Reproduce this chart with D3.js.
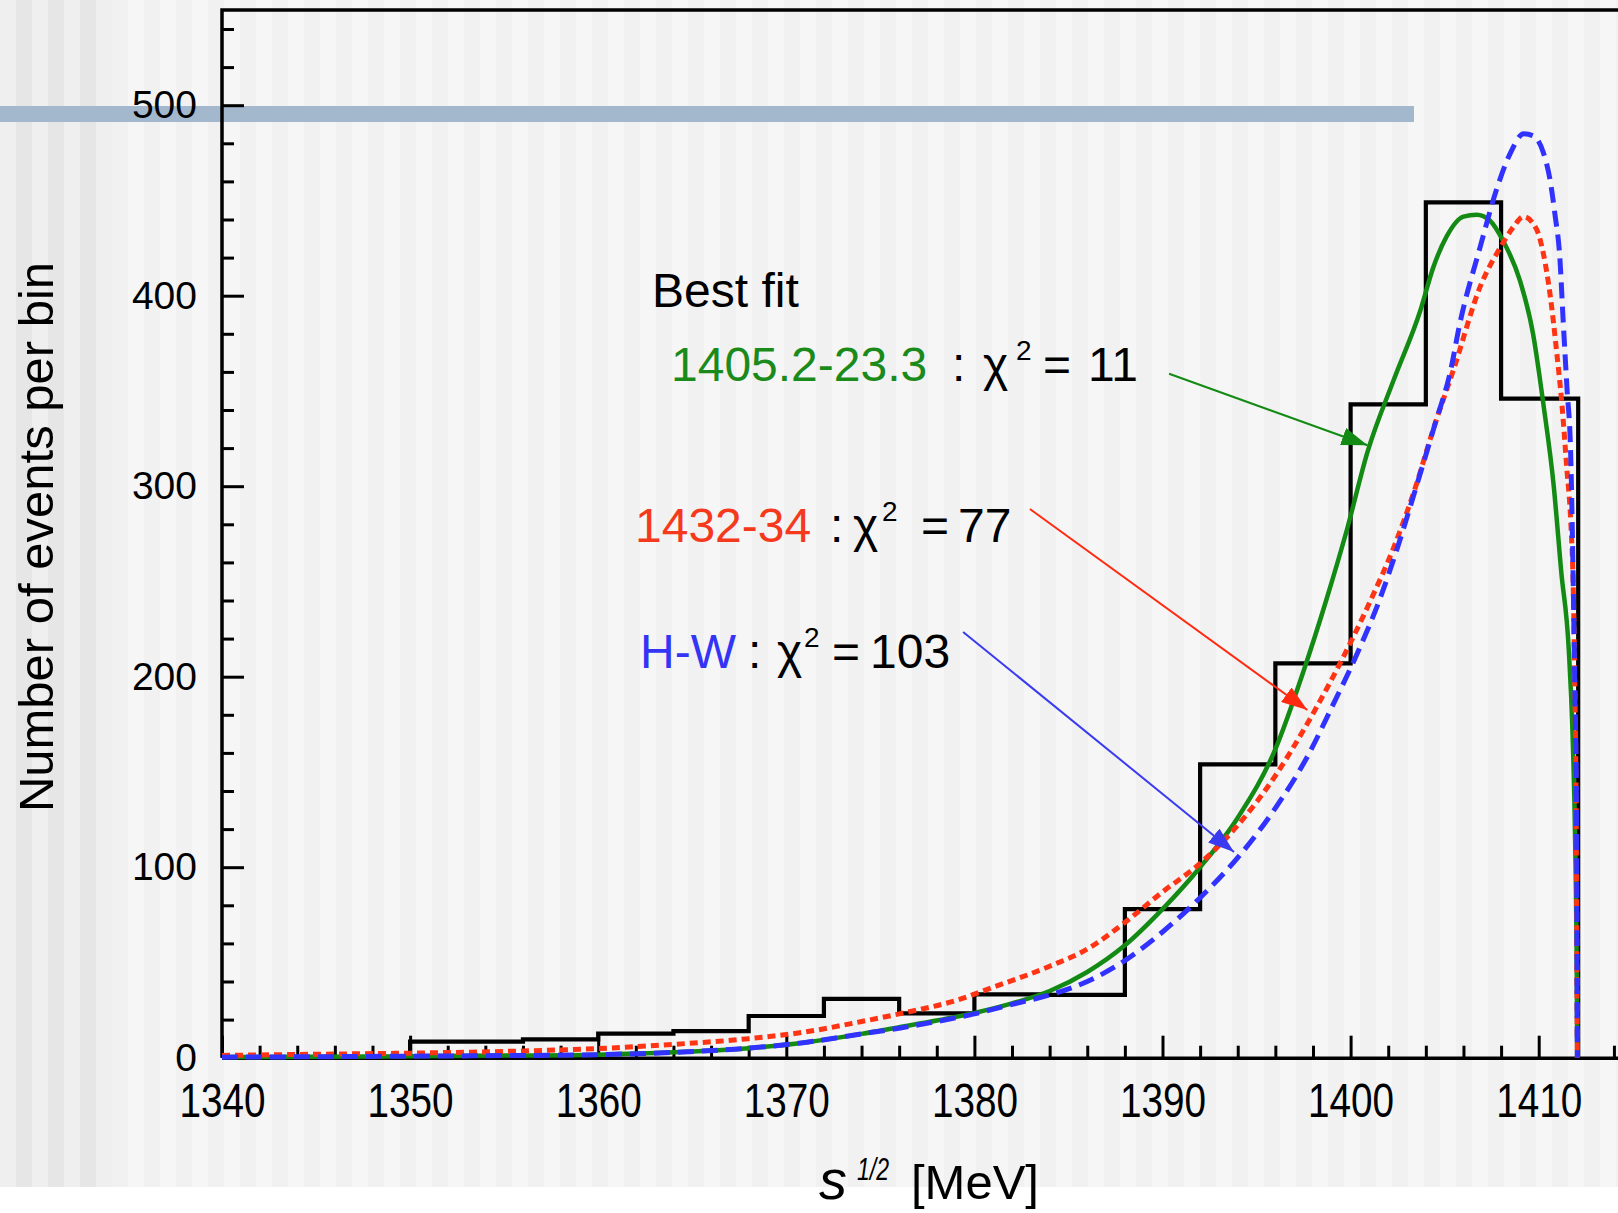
<!DOCTYPE html>
<html>
<head>
<meta charset="utf-8">
<script src="https://cdn.jsdelivr.net/npm/d3@7"></script>
<style>
  html, body { margin: 0; padding: 0; background: #fff; }
  svg { display: block; font-family: "Liberation Sans", Arial, sans-serif; }
</style>
</head>
<body>
<script>
// histogram: bin edges in MeV (last one closes the last bin) and events per bin
var binEdges = [1350, 1356, 1360, 1364, 1368, 1372, 1376, 1380, 1384, 1388, 1392, 1396, 1400, 1404, 1408, 1412.1];
var binCounts = [8.4, 9.6, 12.6, 14, 21.9, 30.9, 23.3, 33.2, 33, 78, 154, 207, 343, 449, 346];

// fitted spectra, [sqrt(s), events]
var bestFit = [[1340,0.3],[1345,0.5],[1350,0.8],[1355,1.1],[1360,1.6],[1364,2.8],[1368,5],[1371,8],[1374,12.5],
  [1376,16],[1378,19.5],[1380,23.5],[1382,28.5],[1384,35],[1386,45],[1388,59],[1390,78],[1392,100],[1394,126],
  [1396,162],[1397.5,203],[1398.7,240],[1399.8,277],[1400.9,318],[1402.3,356],[1403.7,392],[1404.4,415],
  [1405.1,431],[1406,441.5],[1406.7,442.5],[1407.4,439.5],[1408.1,429],[1409,408],[1409.7,380],[1410.25,343],
  [1410.8,300],[1411.2,255],[1411.6,214],[1411.8,170],[1411.93,118],[1412.02,48],[1412.05,0]];
var fit1432 = [[1340,1.2],[1345,1.8],[1350,2.4],[1355,3.3],[1360,4.8],[1364,7],[1368,10],[1371,13.5],[1374,19],
  [1376,23],[1379,30],[1381,37],[1384,48],[1386,57],[1388,71],[1390,87],[1392,102],[1394,122],[1396,148],
  [1397.5,172],[1398.8,195],[1400,218],[1401.2,243],[1402.3,268],[1403.4,298],[1404.4,330],[1405.5,362],
  [1406.9,405],[1408,426],[1408.65,436],[1409.2,441.5],[1409.9,434.5],[1410.25,422],[1410.6,401],[1410.96,370],
  [1411.23,343.5],[1411.5,308.5],[1411.7,282],[1411.85,240],[1411.93,188],[1412.0,118],[1412.05,0]];
var fitHW = [[1340,0.3],[1345,0.5],[1350,0.8],[1355,1.1],[1360,1.6],[1364,2.8],[1368,5],[1371,8],[1374,12.5],
  [1376,15.5],[1378,19],[1380,23],[1382,28],[1384,33],[1386,40],[1388,51],[1390,66],[1392,84],[1394,105],
  [1396,131],[1397.7,158],[1399.1,186],[1400.3,211],[1401.6,242],[1402.5,268],[1403.5,300],[1404.5,333],
  [1405.3,360],[1405.8,385],[1406.9,426],[1407.8,457],[1408.5,475],[1409.2,485],[1409.7,484],[1410.25,475],
  [1410.6,461],[1410.86,443],[1411.13,419],[1411.3,387],[1411.5,352],[1411.7,317],[1411.8,270],[1411.85,240],
  [1411.93,188],[1412.0,143],[1412.05,0]];

var xTicks = [1340, 1350, 1360, 1370, 1380, 1390, 1400, 1410];
var yTicks = [0, 100, 200, 300, 400, 500];

// arrows from the labels to the curves, in data units [x1, y1, x2, y2]
var arrowGreen = [1390.35, 359, 1400.9, 321.5];
var arrowRed = [1382.95, 288, 1397.7, 182.5];
var arrowBlue = [1379.4, 223.5, 1393.8, 108];

var W = 1618, H = 1213;

var svg = d3.select("body").append("svg")
  .attr("width", W)
  .attr("height", H)

// slide background: grey vertical stripes, white strip at the bottom
var bg = svg.append("g")
bg.append("rect").attr("width", W).attr("height", H).attr("fill", "#fff")
for (var sx = 0; sx < W; sx += 16) {
  var odd = (sx / 16) % 2 == 1;
  var c = sx < 98 ? (odd ? "#e6e6e6" : "#efefef") : (odd ? "#f1f1f1" : "#f6f6f6");
  bg.append("rect").attr("x", sx).attr("y", 0).attr("width", 16).attr("height", 1187).attr("fill", c)
}
bg.append("rect").attr("x", 0).attr("y", 106).attr("width", 1414).attr("height", 16).attr("fill", "#a3b7cd")

var x = d3.scaleLinear().domain([1340, 1415]).range([222, 1632.75]);
var y = d3.scaleLinear().domain([0, 550]).range([1057.7, 9.95]);

// frame (right side falls outside the picture)
svg.append("path")
  .attr("d", "M" + x(1340) + "," + y(0) + "V" + y(550) + "H" + x(1415))
  .attr("fill", "none").attr("stroke", "#000").attr("stroke-width", 3.5)

// minor ticks
var xMinor = d3.range(1342, 1416, 2).filter(function(d) { return d % 10 != 0 });
var yMinor = d3.range(20, 550, 20).filter(function(d) { return d % 100 != 0 });
svg.append("g").attr("transform", "translate(0," + y(0) + ")")
  .call(d3.axisBottom(x).tickValues(xMinor).tickSize(-12).tickFormat(""))
  .call(function(g) { g.select(".domain").remove() })
svg.append("g").attr("transform", "translate(" + x(1340) + ",0)")
  .call(d3.axisLeft(y).tickValues(yMinor).tickSize(-12).tickFormat(""))
  .call(function(g) { g.select(".domain").remove() })

// major ticks and labels
var gx = svg.append("g").attr("transform", "translate(0," + y(0) + ")")
  .call(d3.axisBottom(x).tickValues(xTicks).tickSize(-22).tickSizeOuter(0).tickPadding(25).tickFormat(d3.format("d")))
gx.select(".domain").attr("stroke-width", 3.5)
gx.selectAll("text")
  .attr("font-size", 48)
  .attr("textLength", 86)
  .attr("lengthAdjust", "spacingAndGlyphs")

var gy = svg.append("g").attr("transform", "translate(" + x(1340) + ",0)")
  .call(d3.axisLeft(y).tickValues(yTicks).tickSize(-22).tickSizeOuter(0).tickPadding(25))
gy.selectAll("text").attr("font-size", 39)

svg.selectAll(".tick line").attr("stroke-width", 3)
svg.selectAll(".tick text").attr("fill", "#000").attr("font-family", "Liberation Sans, Arial, sans-serif")

// histogram
var histPts = [[binEdges[0], 0]];
binCounts.forEach(function(c, i) { histPts.push([binEdges[i], c]) });
histPts.push([binEdges[binEdges.length - 1], 0]);

var stepLine = d3.line()
  .x(function(d) { return x(d[0]) })
  .y(function(d) { return y(d[1]) })
  .curve(d3.curveStepAfter)

svg.append("path").attr("d", stepLine(histPts))
  .attr("fill", "none").attr("stroke", "#000").attr("stroke-width", 4.2)
  .attr("stroke-linejoin", "miter")

// fit curves
var curve = d3.line()
  .x(function(d) { return x(d[0]) })
  .y(function(d) { return y(d[1]) })
  .curve(d3.curveMonotoneX)

svg.append("path").attr("d", curve(bestFit))
  .attr("fill", "none").attr("stroke", "#138a13").attr("stroke-width", 4.5)
svg.append("path").attr("d", curve(fit1432))
  .attr("fill", "none").attr("stroke", "#ff3414").attr("stroke-width", 5)
  .attr("stroke-dasharray", "8,5")
svg.append("path").attr("d", curve(fitHW))
  .attr("fill", "none").attr("stroke", "#3232ff").attr("stroke-width", 5)
  .attr("stroke-dasharray", "16,8")

// arrows
var defs = svg.append("defs")
function marker(id, color) {
  defs.append("marker").attr("id", id)
    .attr("markerUnits", "userSpaceOnUse")
    .attr("viewBox", "0 0 26 18")
    .attr("markerWidth", 26).attr("markerHeight", 18)
    .attr("refX", 26).attr("refY", 9)
    .attr("orient", "auto")
    .append("path").attr("d", "M0,0L26,9L0,18Z").attr("fill", color)
}
marker("ahG", "#138a13")
marker("ahR", "#ff2a10")
marker("ahB", "#3a3af0")

function arrow(a, color, id) {
  svg.append("line")
    .attr("x1", x(a[0])).attr("y1", y(a[1]))
    .attr("x2", x(a[2])).attr("y2", y(a[3]))
    .attr("stroke", color).attr("stroke-width", 2)
    .attr("marker-end", "url(#" + id + ")")
}
arrow(arrowGreen, "#138a13", "ahG")
arrow(arrowRed, "#ff2a10", "ahR")
arrow(arrowBlue, "#3a3af0", "ahB")

// annotation text
var ann = svg.append("g").attr("font-size", 48).attr("fill", "#000")
ann.append("text").attr("x", 652).attr("y", 307).text("Best fit")

function chiLine(label, color, yb, xs) {
  ann.append("text").attr("x", xs[0]).attr("y", yb).attr("fill", color).text(label)
  ann.append("text").attr("x", xs[1]).attr("y", yb).text(":")
  ann.append("text").attr("x", xs[2]).attr("y", yb).text("χ")
  ann.append("text").attr("x", xs[3]).attr("y", yb - 21).attr("font-size", 28).text("2")
  ann.append("text").attr("x", xs[4]).attr("y", yb).text("=")
  ann.append("text").attr("x", xs[5]).attr("y", yb).text(xs[6])
}
chiLine("1405.2-23.3", "#1a8a1a", 381, [671, 952, 983, 1016, 1043, 1088, "11"])
chiLine("1432-34", "#f5391c", 542, [635, 830, 853, 882, 921, 958, "77"])
chiLine("H-W", "#3434f5", 668, [640, 748, 777, 804, 832, 870, "103"])

// axis titles
svg.append("text")
  .attr("transform", "translate(53,537) rotate(-90)")
  .attr("text-anchor", "middle")
  .attr("font-size", 49)
  .text("Number of events per bin")

svg.append("text").attr("x", 819).attr("y", 1199)
  .attr("font-size", 56).attr("font-style", "italic").text("s")
svg.append("text").attr("x", 857).attr("y", 1180)
  .attr("font-size", 32).attr("font-style", "italic")
  .attr("textLength", 32).attr("lengthAdjust", "spacingAndGlyphs").text("1/2")
svg.append("text").attr("x", 911).attr("y", 1199)
  .attr("font-size", 49).text("[MeV]")
</script>
</body>
</html>
